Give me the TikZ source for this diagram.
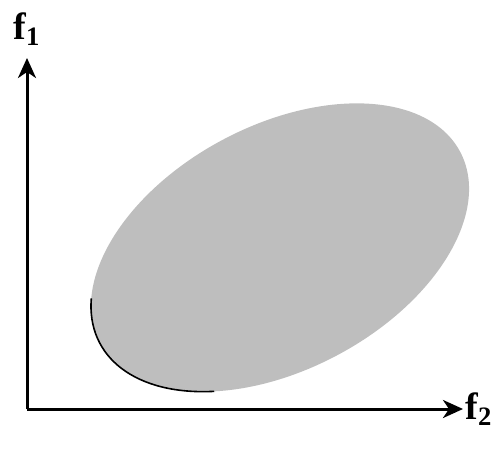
\documentclass[tikz,border=0pt]{standalone}
\usepackage{fontspec}
\setmainfont{Liberation Serif}
\usepackage{tikz}
\usetikzlibrary{arrows.meta,positioning}
\definecolor{regiongray}{RGB}{190,190,190}

\begin{document}
\begin{tikzpicture}[x=0.5pt,y=0.5pt,>={Stealth[length=10pt,width=9pt,inset=3pt]}]
  \useasboundingbox (0,0) rectangle (503,452);
  % objective space
  \coordinate (O) at (27,43);
  \coordinate (ytip) at (27,394);
  \coordinate (xtip) at (463,43);
  \begin{scope}[shift={(280,204.5)},rotate=28]
    \fill[regiongray] (0,0) ellipse [x radius=204, y radius=122];
    \draw[line width=0.8pt] (159:204 and 122) arc [start angle=159, end angle=232, x radius=204, y radius=122];
  \end{scope}
  \draw[->,line width=1.5pt] (O) -- (ytip);
  \draw[->,line width=1.5pt] (O) -- (xtip);
  \node[above=5pt of ytip,inner sep=1pt,font=\fontsize{19}{21}\selectfont\bfseries] (f1) {f\textsubscript{1}};
  \node[right=0pt of xtip,inner sep=1pt,font=\fontsize{19}{21}\selectfont\bfseries] (f2) {f\textsubscript{2}};
\end{tikzpicture}
\end{document}
